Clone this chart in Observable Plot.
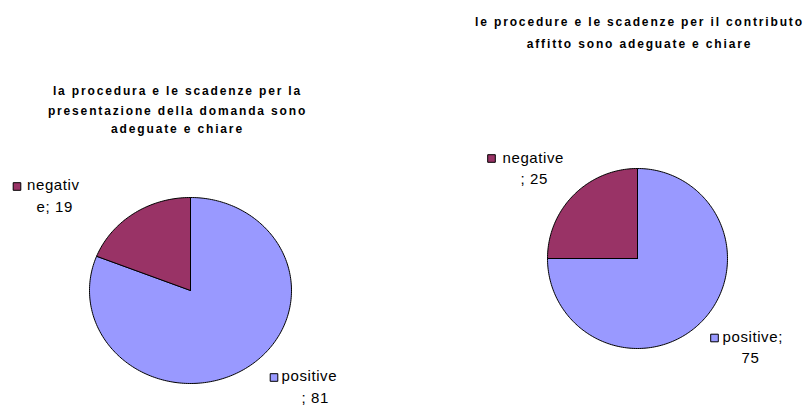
<!DOCTYPE html>
<html><head><meta charset="utf-8">
<script src="https://cdn.jsdelivr.net/npm/d3@7"></script>
<script src="https://cdn.jsdelivr.net/npm/@observablehq/plot@0.6"></script>
<style>body{margin:0;background:#fff} svg text{font-family:"Liberation Sans",Arial,sans-serif}</style>
</head><body><div id="chart"></div>
<script>
const categories = ["positive", "negative"];
const valuesLeft = [81, 19];
const valuesRight = [75, 25];
const titleLeft = ["la procedura e le scadenze per la", "presentazione della domanda sono", "adeguate e chiare"];
const titleRight = ["le procedure e le scadenze per il contributo", "affitto sono adeguate e chiare"];
const labelsLeft = [["positive", "; 81"], ["negativ", "e; 19"]];
const labelsRight = [["positive;", "75"], ["negative", "; 25"]];
const colors = ["#9999FF", "#993366"];

const layout = {
  left: {cx: 190, cy: 290, rx: 101, ry: 93, titleX: 177, titleY: [91, 111, 129],
    labels: [{sq: [273.5, 377], l1: [281, 376], l2: [301, 398]},
             {sq: [16.5, 186], l1: [26.5, 185], l2: [36, 207]}]},
  right: {cx: 637, cy: 258, rx: 90, ry: 90, titleX: 639, titleY: [22, 44],
    labels: [{sq: [714, 337.5], l1: [722, 337], l2: [741, 358]},
             {sq: [491, 158], l1: [502, 158], l2: [520, 178.5]}]}
};

function slices(name, values, lay) {
  const arcs = d3.pie().sort(null).startAngle(0).endAngle(2 * Math.PI)(values);
  const pts = [];
  arcs.forEach((a, i) => {
    const key = name + "-" + categories[i];
    const cat = categories[i];
    pts.push({key, cat, x: lay.cx, y: lay.cy});
    const n = Math.max(2, Math.ceil((a.endAngle - a.startAngle) / (2 * Math.PI) * 300));
    for (let k = 0; k <= n; k++) {
      const t = a.startAngle + (a.endAngle - a.startAngle) * k / n;
      pts.push({key, cat, x: lay.cx + lay.rx * Math.sin(t), y: lay.cy - lay.ry * Math.cos(t)});
    }
    pts.push({key, cat, x: lay.cx, y: lay.cy});
  });
  return pts;
}

function labelData(lines, lay) {
  return categories.map((cat, i) => ({cat, lines: lines[i], pos: lay.labels[i]}));
}
function titleData(lines, lay) {
  return lines.map((t, i) => ({t, x: lay.titleX, y: lay.titleY[i]}));
}

const pieData = [...slices("left", valuesLeft, layout.left), ...slices("right", valuesRight, layout.right)];
const labs = [...labelData(labelsLeft, layout.left), ...labelData(labelsRight, layout.right)];
const titles = [...titleData(titleLeft, layout.left), ...titleData(titleRight, layout.right)];

const font = "'Liberation Sans', Arial, sans-serif";
const plot = Plot.plot({
  width: 808, height: 405, margin: 0,
  x: {domain: [0, 808], range: [0, 808], axis: null},
  y: {domain: [0, 405], range: [0, 405], axis: null},
  color: {domain: categories, range: colors},
  style: {fontFamily: font, background: "#fff"},
  marks: [
    Plot.line(pieData, {x: "x", y: "y", z: "key", fill: "cat", stroke: "black", strokeWidth: 1, curve: "linear", strokeLinejoin: "round"}),
    Plot.text(titles, {x: "x", y: "y", text: "t", fontFamily: font, fontWeight: "bold", fontSize: 12, fill: "black", textAnchor: "middle"}),
    Plot.dot(labs, {x: d => d.pos.sq[0], y: d => d.pos.sq[1], symbol: "square", r: 4.3, fill: "cat", stroke: "black", strokeWidth: 1}),
    Plot.text(labs, {x: d => d.pos.l1[0], y: d => d.pos.l1[1], text: d => d.lines[0], fontFamily: font, fontSize: 15, fill: "black", textAnchor: "start"}),
    Plot.text(labs, {x: d => d.pos.l2[0], y: d => d.pos.l2[1], text: d => d.lines[1], fontFamily: font, fontSize: 15, fill: "black", textAnchor: "start"})
  ]
});
d3.select(plot).selectAll('g[font-weight="bold"]').attr("letter-spacing", "1.85px").selectAll("text").style("font-weight", "bold");
d3.select(plot).selectAll('g[font-size="15"]').attr("letter-spacing", "0.6px");
document.getElementById("chart").appendChild(plot);
</script>
</body></html>
